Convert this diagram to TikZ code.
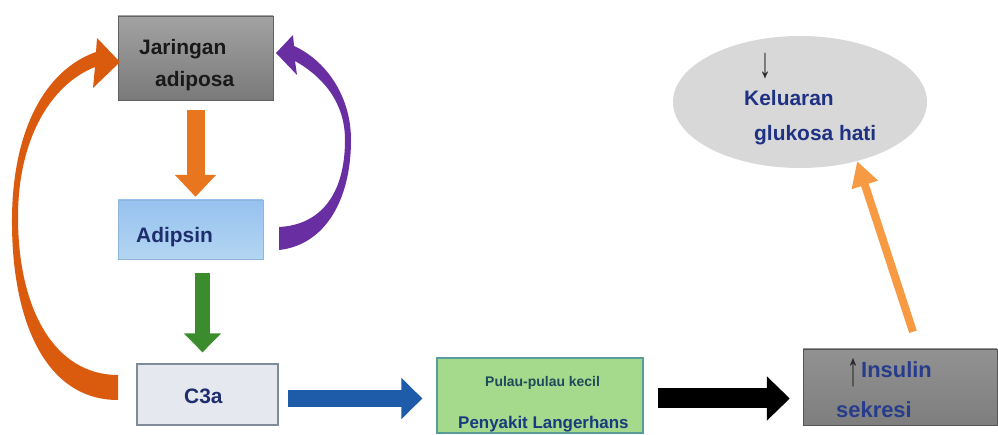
\documentclass[tikz,border=0pt]{standalone}
\usepackage{fontspec}
\setmainfont{Liberation Sans}
\usetikzlibrary{arrows.meta,shapes.geometric}
\definecolor{jargray}{HTML}{8C8C8C}
\definecolor{jartop}{HTML}{A2A2A2}
\definecolor{jarbot}{HTML}{7A7A7A}
\definecolor{adipblue}{HTML}{9FCBEE}
\definecolor{adipedge}{HTML}{8DB6DA}
\definecolor{cfill}{HTML}{E5E8EE}
\definecolor{cedge}{HTML}{7F8B98}
\definecolor{pfill}{HTML}{A5D98C}
\definecolor{pedge}{HTML}{5A9C9A}
\definecolor{navy}{HTML}{1F2D6E}
\definecolor{tealtxt}{HTML}{1E4A5C}
\definecolor{insnavy}{HTML}{283C8C}
\definecolor{ellfill}{HTML}{D8D8D8}
\definecolor{ellnavy}{HTML}{1F3182}
\definecolor{orangeA}{HTML}{E8761E}
\definecolor{greenA}{HTML}{3A8C2C}
\definecolor{blueA}{HTML}{1E5BA8}
\definecolor{orangeT}{HTML}{F69A44}
\definecolor{orangeC}{HTML}{DA5A0E}
\definecolor{purpleC}{HTML}{6A2EA3}
\tikzset{
  boxnode/.style={rectangle, inner sep=0pt},
  txt/.style={inner sep=0pt, anchor=base west, font=\bfseries\fontsize{21}{25}\selectfont},
  arrowglyph/.style={inner sep=0pt, anchor=base, font=\fontsize{24}{28}\selectfont, text=black!85},
}
\begin{document}
\begin{tikzpicture}[x=1bp,y=-1bp]
\useasboundingbox (0,0) rectangle (998,435);
% boxes
\node[boxnode, minimum width=155bp, minimum height=84bp, draw=jarbot!80!black, top color=jartop, bottom color=jarbot] (jar) at (195.5,58) {};
\node[boxnode, minimum width=145bp, minimum height=59bp, draw=adipedge, top color=adipblue!95!blue, bottom color=adipblue!80!white] (adip) at (190.5,229.5) {};
\node[boxnode, minimum width=141bp, minimum height=61bp, draw=cedge, line width=1.2bp, fill=cfill] (c3a) at (207.5,394.5) {};
\node[boxnode, minimum width=206bp, minimum height=75bp, draw=pedge, line width=1.2bp, fill=pfill] (pulau) at (540,395.5) {};
\node[boxnode, minimum width=194bp, minimum height=76bp, draw=jarbot!70!black, top color=jargray!95!white, bottom color=jargray!90!black] (ins) at (900,387) {};
\node[ellipse, inner sep=0pt, minimum width=254bp, minimum height=132bp, fill=ellfill] (ell) at (800,102) {};
% texts
\node[txt, text=black!90] (t1) at (139,55) {Jaringan};
\node[txt, text=black!90] (t2) at (155,87) {adiposa};
\node[txt, text=navy] (t3) at (136,243) {Adipsin};
\node[txt, text=navy] (t4) at (184,403) {C3a};
\node[txt, text=tealtxt, font=\bfseries\fontsize{14}{16}\selectfont] (t5) at (485,387) {Pulau-pulau kecil};
\node[txt, text=tealtxt!80!blue, font=\bfseries\fontsize{17}{20}\selectfont] (t6) at (458,428) {Penyakit Langerhans};
\node[arrowglyph] (t7) at (853,386) {\scalebox{1}[2]{↑}};
\node[txt, text=insnavy, font=\bfseries\fontsize{22}{26}\selectfont] (t8) at (861,378) {Insulin};
\node[txt, text=insnavy, font=\bfseries\fontsize{22}{26}\selectfont] (t9) at (836,417) {sekresi};
\node[arrowglyph] (t10) at (765,78) {\scalebox{1}[1.8]{↓}};
\node[txt, text=ellnavy] (t11) at (744,106) {Keluaran};
\node[txt, text=ellnavy] (t12) at (754,141) {glukosa hati};
% straight block arrows
\draw[orangeA, line width=18bp, -{Triangle[width=40bp,length=22bp]}]
  ([yshift=-10bp]jar.south) -- ([yshift=3bp]jar.south |- adip.north);
\draw[greenA, line width=15bp, -{Triangle[width=36bp,length=19bp]}]
  ([xshift=12bp,yshift=-14bp]adip.south) -- ([xshift=12bp,yshift=11bp]adip.south |- c3a.north);
\draw[blueA, line width=17bp, -{Triangle[width=40bp,length=21bp]}]
  ([xshift=9bp,yshift=-4bp]c3a.east) -- ([xshift=-14bp,yshift=-4bp]c3a.east -| pulau.west);
\draw[black, line width=20bp, -{Triangle[width=43bp,length=23bp]}]
  ([xshift=14bp,yshift=-3bp]pulau.east) -- ([xshift=-13bp,yshift=-3bp]pulau.east -| ins.west);
\draw[orangeT, line width=8bp, -{Triangle[width=26bp,length=25bp]}]
  ([xshift=13bp,yshift=17bp]ins.north) -- (ell.-46);
% curved arrows (tapered)
\fill[orangeC] (118,400) .. controls (45,400) and (11,320) .. (12,217)
  .. controls (13,130) and (45,70) .. (96,52) -- (97,38) -- (120,62) -- (93,88) -- (95,67)
  .. controls (50,85) and (18,140) .. (18,217)
  .. controls (18,310) and (55,375) .. (118,375) -- cycle;
\fill[purpleC] (279,250) .. controls (325,245) and (351,200) .. (351,140)
  .. controls (351,95) and (325,60) .. (294,46) -- (293,35) -- (276,53) -- (297,75) -- (295,61)
  .. controls (320,75) and (345,100) .. (345,140)
  .. controls (345,195) and (320,225) .. (279,227) -- cycle;
\end{tikzpicture}
\end{document}
